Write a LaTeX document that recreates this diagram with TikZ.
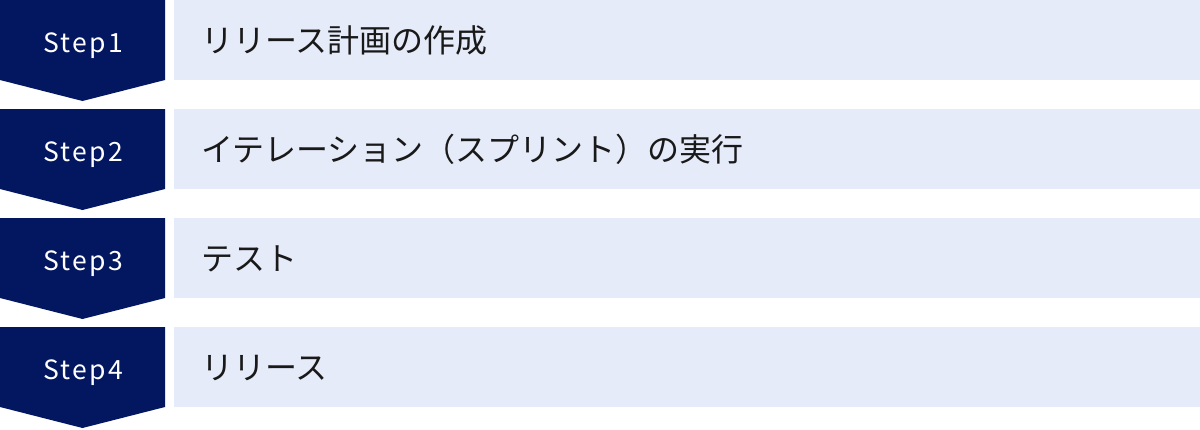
\documentclass[tikz,border=0pt]{standalone}
\usepackage{fontspec}
\setmainfont{Noto Sans CJK JP}
\newfontfamily\stepfont[LetterSpace=9]{Noto Sans CJK JP}
\definecolor{stepnavy}{RGB}{3,23,97}
\definecolor{steplight}{RGB}{229,235,249}

\tikzset{
  steplabel/.style={text=white, inner sep=0pt, anchor=base,
    font=\stepfont\fontsize{26.5}{30}\selectfont},
  tasklabel/.style={text=black!90, inner sep=0pt, anchor=base west,
    font=\fontsize{32}{36}\selectfont}
}

\begin{document}
\begin{tikzpicture}[x=1pt, y=-1pt]

% Canvas
\useasboundingbox (0,0) rectangle (1200,429);

% Rows
\foreach \i/\task in {1/リリース計画の作成, 2/イテレーション（スプリント）の実行, 3/テスト, 4/リリース} {
  \pgfmathsetmacro\rowtop{(\i-1)*109}
  % Arrow block
  \fill[stepnavy] (0,\rowtop) -- (165,\rowtop) -- (165,\rowtop+80)
    -- (82.5,\rowtop+101) -- (0,\rowtop+80) -- cycle;
  % Task bar
  \fill[steplight] (174,\rowtop) rectangle (1200,\rowtop+80);
  % Labels
  \node[steplabel] (step\i) at (83.5,\rowtop+52) {Step\i};
  \node[tasklabel] (task\i) at (201,\rowtop+52) {\task};
}

\end{tikzpicture}
\end{document}
